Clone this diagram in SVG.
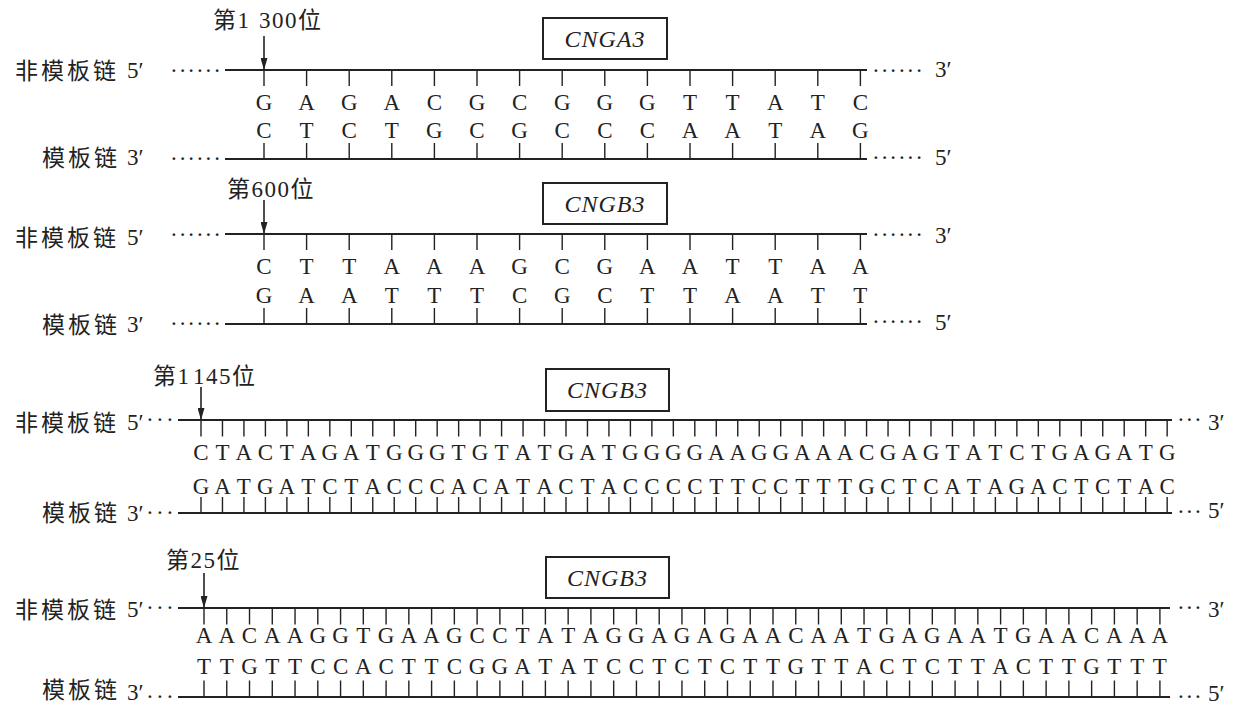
<svg xmlns="http://www.w3.org/2000/svg" width="1239" height="705" viewBox="0 0 1239 705">
<style>
.cjk{font-family:"Noto Sans CJK SC","Noto Sans CJK TC",sans-serif;font-size:23px;letter-spacing:3px;fill:#222}
.lat{font-family:"Liberation Serif","Times New Roman",serif;font-size:23px;fill:#222}
.pos{font-family:"Liberation Serif","Noto Sans CJK SC",serif;font-size:23px;letter-spacing:1.5px;fill:#222}
.base{font-family:"Liberation Serif","Times New Roman",serif;font-size:23px;fill:#222;text-anchor:middle}
.gene{font-family:"Liberation Serif","Times New Roman",serif;font-size:24px;font-style:italic;fill:#222;text-anchor:middle;letter-spacing:1px}
.box{fill:#fff;stroke:#222;stroke-width:2}
.strand{stroke:#222;stroke-width:2.2;fill:none}
.t12{stroke:#222;stroke-width:16;stroke-dasharray:1.4 41.2;fill:none}
.t3{stroke:#222;stroke-width:16;stroke-dasharray:1.4 20.07;fill:none}
.t4{stroke:#222;stroke-width:16;stroke-dasharray:1.4 21.36;fill:none}
.arrow{stroke:#222;stroke-width:1.6;fill:none;marker-end:url(#ah)}
</style>
<defs>
<marker id="ah" viewBox="0 0 12 7" refX="12" refY="3.5" markerWidth="12" markerHeight="7" markerUnits="userSpaceOnUse" orient="auto">
<path d="M0,0 L12,3.5 L0,7 z" fill="#222"/>
</marker>
</defs>
<rect width="1239" height="705" fill="#fff"/>

<!-- Panel 1: CNGA3 -->
<g id="panel1">
  <g id="p1-labels">
    <text class="cjk" x="15" y="79">非模板链</text>
    <text class="lat" x="127" y="78">5′</text>
    <text class="lat" x="171" y="72" letter-spacing="2.9">......</text>
    <text class="cjk" x="42" y="166">模板链</text>
    <text class="lat" x="127" y="165">3′</text>
    <text class="lat" x="171" y="160" letter-spacing="2.9">......</text>
    <text class="lat" x="873" y="72" letter-spacing="2.9">......</text>
    <text class="lat" x="935" y="77">3′</text>
    <text class="lat" x="873" y="159" letter-spacing="2.9">......</text>
    <text class="lat" x="935" y="165">5′</text>
    <text class="pos" x="213" y="28">第1<tspan x="259">300位</tspan></text>
  </g>
  <g id="p1-gene">
    <rect class="box" x="543" y="18" width="124" height="41"/>
    <text class="gene" x="605" y="47">CNGA3</text>
  </g>
  <g id="p1-strands">
    <line class="strand" x1="225" y1="70" x2="867" y2="70"/>
    <line class="strand" x1="225" y1="159" x2="867" y2="159"/>
    <line class="t12" x1="263.3" y1="78" x2="861.1" y2="78"/>
    <line class="t12" x1="263.3" y1="151" x2="861.1" y2="151"/>
  </g>
  <g id="p1-bases">
    <text class="base" y="110" x="264 306.6 349.2 391.8 434.4 477 519.6 562.2 604.8 647.4 690 732.6 775.2 817.8 860.4">GAGACGCGGGTTATC</text>
    <text class="base" y="138" x="264 306.6 349.2 391.8 434.4 477 519.6 562.2 604.8 647.4 690 732.6 775.2 817.8 860.4">CTCTGCGCCCAATAG</text>
  </g>
</g>

<!-- Panel 2: CNGB3 (600) -->
<g id="panel2">
  <g id="p2-labels">
    <text class="cjk" x="15" y="246">非模板链</text>
    <text class="lat" x="127" y="245">5′</text>
    <text class="lat" x="171" y="236" letter-spacing="2.9">......</text>
    <text class="cjk" x="42" y="333">模板链</text>
    <text class="lat" x="127" y="332">3′</text>
    <text class="lat" x="171" y="325" letter-spacing="2.9">......</text>
    <text class="lat" x="873" y="236" letter-spacing="2.9">......</text>
    <text class="lat" x="935" y="243">3′</text>
    <text class="lat" x="873" y="323" letter-spacing="2.9">......</text>
    <text class="lat" x="935" y="330">5′</text>
    <text class="pos" x="227" y="197">第600位</text>
  </g>
  <g id="p2-gene">
    <rect class="box" x="543" y="183" width="124" height="41"/>
    <text class="gene" x="605" y="212">CNGB3</text>
  </g>
  <g id="p2-strands">
    <line class="strand" x1="225" y1="234" x2="867" y2="234"/>
    <line class="strand" x1="225" y1="324" x2="867" y2="324"/>
    <line class="t12" x1="263.3" y1="242" x2="861.1" y2="242"/>
    <line class="t12" x1="263.3" y1="316" x2="861.1" y2="316"/>
  </g>
  <g id="p2-bases">
    <text class="base" y="274" x="264 306.6 349.2 391.8 434.4 477 519.6 562.2 604.8 647.4 690 732.6 775.2 817.8 860.4">CTTAAAGCGAATTAA</text>
    <text class="base" y="303" x="264 306.6 349.2 391.8 434.4 477 519.6 562.2 604.8 647.4 690 732.6 775.2 817.8 860.4">GAATTTCGCTTAATT</text>
  </g>
</g>

<!-- Panel 3: CNGB3 (1145) -->
<g id="panel3">
  <g id="p3-labels">
    <text class="cjk" x="15" y="431">非模板链</text>
    <text class="lat" x="127" y="430">5′</text>
    <text class="lat" x="147" y="421" letter-spacing="4.2">...</text>
    <text class="cjk" x="42" y="521">模板链</text>
    <text class="lat" x="127" y="521">3′</text>
    <text class="lat" x="147" y="514" letter-spacing="4.2">...</text>
    <text class="lat" x="1178" y="421" letter-spacing="2.8">...</text>
    <text class="lat" x="1208" y="430">3′</text>
    <text class="lat" x="1178" y="513" letter-spacing="2.8">...</text>
    <text class="lat" x="1208" y="518">5′</text>
    <text class="pos" x="153" y="384">第1<tspan x="193">145位</tspan></text>
  </g>
  <g id="p3-gene">
    <rect class="box" x="546" y="369" width="123" height="42"/>
    <text class="gene" x="607.5" y="398">CNGB3</text>
  </g>
  <g id="p3-strands">
    <line class="strand" x1="178" y1="420" x2="1172" y2="420"/>
    <line class="strand" x1="178" y1="513" x2="1172" y2="513"/>
    <line class="t3" x1="200.3" y1="428.5" x2="1167.9" y2="428.5"/>
    <line class="t3" x1="200.3" y1="505" x2="1167.9" y2="505"/>
  </g>
  <g id="p3-bases">
    <text class="base" y="460" x="201 222.5 243.9 265.4 286.9 308.4 329.8 351.3 372.8 394.2 415.7 437.2 458.6 480.1 501.6 523.1 544.5 566 587.5 608.9 630.4 651.9 673.3 694.8 716.3 737.8 759.2 780.7 802.2 823.6 845.1 866.6 888 909.5 931 952.5 973.9 995.4 1016.9 1038.3 1059.8 1081.3 1102.7 1124.2 1145.7 1167.2">CTACTAGATGGGTGTATGATGGGGAAGGAAACGAGTATCTGAGATG</text>
    <text class="base" y="494" x="201 222.5 243.9 265.4 286.9 308.4 329.8 351.3 372.8 394.2 415.7 437.2 458.6 480.1 501.6 523.1 544.5 566 587.5 608.9 630.4 651.9 673.3 694.8 716.3 737.8 759.2 780.7 802.2 823.6 845.1 866.6 888 909.5 931 952.5 973.9 995.4 1016.9 1038.3 1059.8 1081.3 1102.7 1124.2 1145.7 1167.2">GATGATCTACCCACATACTACCCCTTCCTTTGCTCATAGACTCTAC</text>
  </g>
</g>

<!-- Panel 4: CNGB3 (25) -->
<g id="panel4">
  <g id="p4-labels">
    <text class="cjk" x="15" y="618">非模板链</text>
    <text class="lat" x="127" y="617">5′</text>
    <text class="lat" x="147" y="609" letter-spacing="4.2">...</text>
    <text class="cjk" x="42" y="698">模板链</text>
    <text class="lat" x="127" y="700">3′</text>
    <text class="lat" x="147" y="698" letter-spacing="4.2">...</text>
    <text class="lat" x="1178" y="609" letter-spacing="2.8">...</text>
    <text class="lat" x="1208" y="617">3′</text>
    <text class="lat" x="1178" y="698" letter-spacing="2.8">...</text>
    <text class="lat" x="1208" y="701">5′</text>
    <text class="pos" x="166" y="568">第25位</text>
  </g>
  <g id="p4-gene">
    <rect class="box" x="546" y="557" width="123" height="41"/>
    <text class="gene" x="607.5" y="586">CNGB3</text>
  </g>
  <g id="p4-strands">
    <line class="strand" x1="178" y1="608" x2="1170" y2="608"/>
    <line class="strand" x1="178" y1="697" x2="1170" y2="697"/>
    <line class="t4" x1="203.3" y1="616.5" x2="1160.6" y2="616.5"/>
    <line class="t4" x1="203.3" y1="688.5" x2="1160.6" y2="688.5"/>
  </g>
  <g id="p4-bases">
    <text class="base" y="643" x="204 226.8 249.5 272.3 295 317.8 340.6 363.3 386.1 408.8 431.6 454.4 477.1 499.9 522.6 545.4 568.2 590.9 613.7 636.4 659.2 682 704.7 727.5 750.2 773 795.8 818.5 841.3 864 886.8 909.6 932.3 955.1 977.8 1000.6 1023.4 1046.1 1068.9 1091.6 1114.4 1137.2 1159.9">AACAAGGTGAAGCCTATAGGAGAGAACAATGAGAATGAACAAA</text>
    <text class="base" y="674" x="204 226.8 249.5 272.3 295 317.8 340.6 363.3 386.1 408.8 431.6 454.4 477.1 499.9 522.6 545.4 568.2 590.9 613.7 636.4 659.2 682 704.7 727.5 750.2 773 795.8 818.5 841.3 864 886.8 909.6 932.3 955.1 977.8 1000.6 1023.4 1046.1 1068.9 1091.6 1114.4 1137.2 1159.9">TTGTTCCACTTCGGATATCCTCTCTTGTTACTCTTACTTGTTT</text>
  </g>
</g>

<!-- Connectors: position arrows -->
<g id="connectors">
  <line class="arrow" x1="264" y1="36" x2="264" y2="70"/>
  <line class="arrow" x1="264" y1="200" x2="264" y2="234"/>
  <line class="arrow" x1="201" y1="387" x2="201" y2="420"/>
  <line class="arrow" x1="204" y1="573" x2="204" y2="608"/>
</g>
</svg>
